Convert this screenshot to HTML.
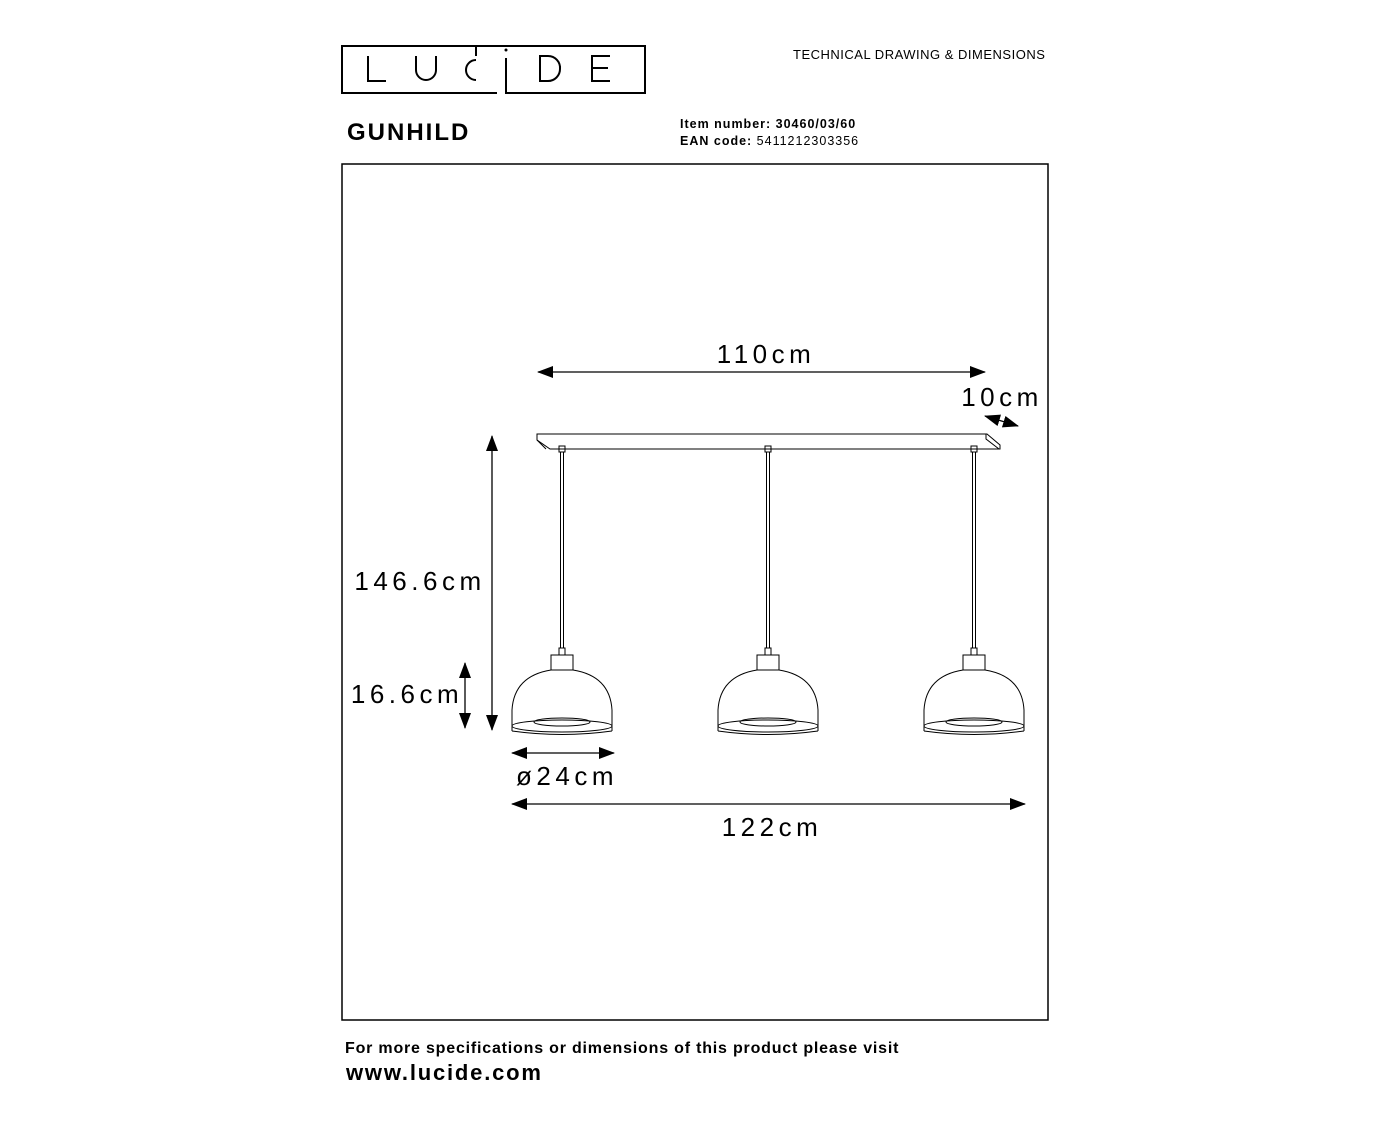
<!DOCTYPE html><html><head><style>body{margin:0;background:#fff}svg{display:block}</style></head><body>
<svg width="1384" height="1132" viewBox="0 0 1384 1132" xmlns="http://www.w3.org/2000/svg" font-family="Liberation Sans, sans-serif">
<defs>
<marker id="b" markerWidth="16" markerHeight="12" refX="15" refY="6" orient="auto-start-reverse" markerUnits="userSpaceOnUse" viewBox="0 0 16 12"><path d="M0,0 L16,6 L0,12 Z" fill="#000"/></marker></defs>
<!-- logo -->
<g fill="none" stroke="#000" stroke-width="2">
<path d="M497,93 H342 V46 H645 V93 H506 V58"/>
<path d="M476,46 V56"/>
<path d="M368,56 V81 H386"/>
<path d="M416,56 V70 A10,10 0 0 0 436,70 V56"/>
<path d="M476,60 A10,10 0 0 0 476,80"/>
<path d="M540,56 V81 H548 A12,12 0 0 0 560,69 A12,12 0 0 0 548,56 Z"/>
<path d="M610,56 H592 V81 H610 M592,68 H608"/>
</g>
<circle cx="506" cy="50" r="1.5" fill="#000"/>
<text x="793" y="59" font-size="13" fill="#000" letter-spacing="0.5">TECHNICAL DRAWING &amp; DIMENSIONS</text>
<text x="347" y="140" font-size="24" font-weight="bold" fill="#000" letter-spacing="2">GUNHILD</text>
<text x="680" y="128" font-size="12.5" font-weight="bold" fill="#000" letter-spacing="1">Item number: 30460/03/60</text>
<text x="680" y="145" font-size="12.5" fill="#000" letter-spacing="1"><tspan font-weight="bold">EAN code:</tspan> 5411212303356</text>
<rect x="342" y="164" width="706" height="856" fill="none" stroke="#000" stroke-width="1.5"/>
<!-- bar -->
<g fill="none" stroke="#000" stroke-width="1">
<path d="M537,434 H987 L1000,445 V449 H550 L537,440 Z"/>
<path d="M986,434 L986,439 L999,449 M537,440 L546,449"/>
<g id="l">
<rect x="559" y="446" width="6" height="6"/>
<path d="M560.5,452 V648 M563.5,452 V648"/>
<rect x="559" y="648" width="6" height="7"/>
<rect x="551" y="655" width="22" height="15"/>
<path d="M551,670 Q514,676 512,710 V731 M573,670 Q610,676 612,710 V731"/>
<ellipse cx="562" cy="726" rx="50" ry="6"/>
<ellipse cx="562" cy="722" rx="28" ry="4"/>
<path d="M512,731 Q562,738 612,731"/>
</g>
<use href="#l" x="206"/>
<use href="#l" x="412"/>
</g>
<!-- dimensions -->
<g stroke="#000" stroke-width="1.3" fill="none">
<line x1="538" y1="372" x2="985" y2="372" marker-start="url(#b)" marker-end="url(#b)"/>
<line x1="492" y1="436" x2="492" y2="730" marker-start="url(#b)" marker-end="url(#b)"/>
<line x1="465" y1="663" x2="465" y2="728" marker-start="url(#b)" marker-end="url(#b)"/>
<line x1="512" y1="753" x2="614" y2="753" marker-start="url(#b)" marker-end="url(#b)"/>
<line x1="512" y1="804" x2="1025" y2="804" marker-start="url(#b)" marker-end="url(#b)"/>
<line x1="985" y1="416" x2="1018" y2="426" marker-start="url(#b)" marker-end="url(#b)"/>
</g>
<g font-size="26" fill="#000" letter-spacing="4.5">
<text x="766" y="363" text-anchor="middle">110cm</text>
<text x="1002" y="406" text-anchor="middle">10cm</text>
<text x="420" y="590" text-anchor="middle">146.6cm</text>
<text x="407" y="703" text-anchor="middle">16.6cm</text>
<text x="567" y="785" text-anchor="middle">ø24cm</text>
<text x="772" y="836" text-anchor="middle">122cm</text>
</g>
<text x="345" y="1053" font-size="16" font-weight="bold" fill="#000" letter-spacing="0.8">For more specifications or dimensions of this product please visit</text>
<text x="346" y="1080" font-size="22" font-weight="bold" fill="#000" letter-spacing="1.8">www.lucide.com</text>
</svg></body></html>
